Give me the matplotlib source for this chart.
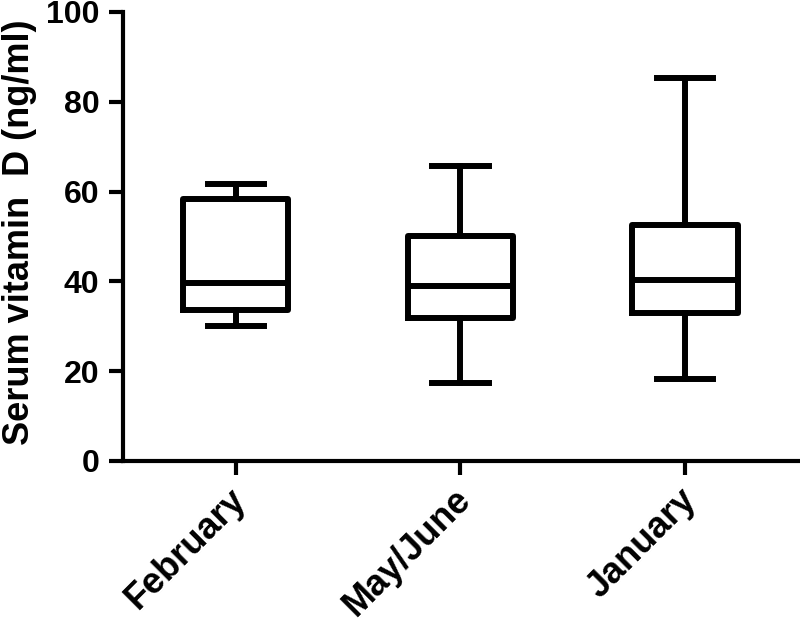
import matplotlib
matplotlib.use("Agg")
import matplotlib.pyplot as plt
from matplotlib.transforms import ScaledTranslation

categories = ["February", "May/June", "January"]
whisker_low = [30.1, 17.4, 18.3]
q1 = [33.6, 31.9, 32.9]
median = [39.7, 39.0, 40.3]
q3 = [58.4, 50.2, 52.5]
whisker_high = [61.6, 65.7, 85.3]
yticks = [0, 20, 40, 60, 80, 100]

plt.rcParams['font.family'] = ['Liberation Sans', 'DejaVu Sans']
plt.rcParams['font.weight'] = 'bold'

fig = plt.figure(figsize=(8, 6.26), dpi=100)
ax = fig.add_axes([0.154, 0.2636, 0.846, 0.7174])

stats = []
for i, c in enumerate(categories):
    stats.append(dict(label=c, whislo=whisker_low[i], q1=q1[i], med=median[i],
                      q3=q3[i], whishi=whisker_high[i], fliers=[]))

lw = 4.3
ax.bxp(stats, positions=[1, 2, 3], widths=0.47, showfliers=False,
       boxprops=dict(color='black', linewidth=lw),
       medianprops=dict(color='black', linewidth=lw),
       whiskerprops=dict(color='black', linewidth=lw),
       capprops=dict(color='black', linewidth=lw),
       capwidths=0.25)

ax.set_xlim(0.5, 3.51)
ax.set_ylim(0, 100)
ax.set_yticks(yticks)
ax.set_yticklabels([str(v) for v in yticks], fontsize=23, fontweight='bold')
ax.set_xticks([1, 2, 3])
ax.set_xticklabels(categories, fontsize=26, fontweight='bold', rotation=45,
                   ha='right', rotation_mode='anchor')
ax.tick_params(axis='both', width=3, length=10, color='black')
ax.tick_params(axis='y', pad=7)
ax.tick_params(axis='x', pad=7)
offset = ScaledTranslation(-5 / 72, 2 / 72, fig.dpi_scale_trans)
for lab in ax.get_xticklabels():
    lab.set_transform(lab.get_transform() + offset)
for s in ['top', 'right']:
    ax.spines[s].set_visible(False)
for s in ['left', 'bottom']:
    ax.spines[s].set_linewidth(3)
ax.spines['left'].set_bounds(0, 100)
ax.set_ylabel("Serum vitamin  D (ng/ml)", fontsize=26, fontweight='bold')
ax.yaxis.set_label_coords(-0.128, 0.51)

fig.savefig("out.png", dpi=100)
